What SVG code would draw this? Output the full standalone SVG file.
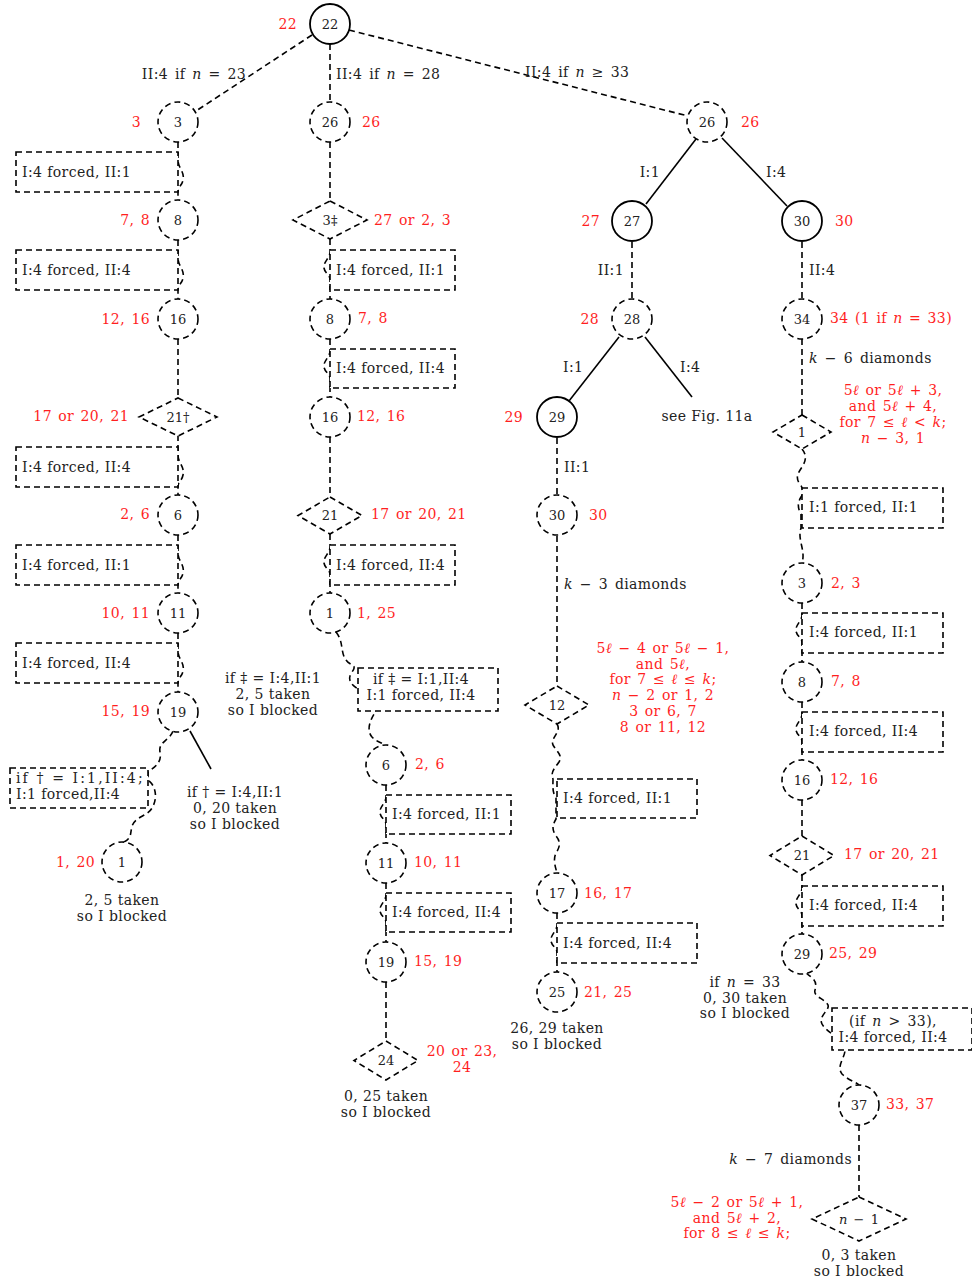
<svg xmlns="http://www.w3.org/2000/svg" width="972" height="1282" viewBox="0 0 972 1282">
<style>
.d{fill:none;stroke:#000;stroke-width:1.6;stroke-dasharray:6 4}
.s{fill:none;stroke:#000;stroke-width:1.6}
.dn{fill:#fff;stroke:#000;stroke-width:1.6;stroke-dasharray:6 4}
.sn{fill:#fff;stroke:#000;stroke-width:1.8}
text{font-family:"DejaVu Serif","Liberation Serif",serif;font-size:14px;letter-spacing:0.4px;fill:#222}
.n{font-size:13px;letter-spacing:0}
.r{fill:#ff1f1f;word-spacing:1.5px}
.w{word-spacing:2px}
.m{text-anchor:middle}
.e{text-anchor:end}
.i{font-style:italic}
</style>
<rect width="972" height="1282" fill="#fff"/>
<g id="connectors">
<path class="d" d="M312,35 L196,111"/>
<path class="d" d="M330,44 V102"/>
<path class="d" d="M349,30 L688,116"/>
<path class="d" d="M178,142 V160 C178,168 185,172 183,180 C182,186 178,186 178,192 V200"/>
<path class="d" d="M178,240 V258 C178,266 185,270 183,278 C182,284 178,284 178,290 V299"/>
<path class="d" d="M178,339 V398"/>
<path class="d" d="M178,435 V455 C178,463 185,467 183,475 C182,481 178,481 178,487 V495"/>
<path class="d" d="M178,535 V553 C178,561 185,565 183,573 C182,579 178,579 178,585 V593"/>
<path class="d" d="M178,633 V651 C178,659 185,663 183,671 C182,677 178,677 178,683 V692"/>
<path class="d" d="M173,731 C170,740 158,742 160,752 C162,762 156,766 148,772 L148,780 C156,786 158,798 152,808 C148,816 136,816 132,826 C130,834 132,838 124,842"/>
<path class="s" d="M190,731 L211,769"/>
<path class="d" d="M330,142 V201"/>
<path class="d" d="M330,239 V252 C330,258 323,262 324,268 C325,274 330,274 330,280 V299"/>
<path class="d" d="M330,339 V351 C330,357 323,361 324,367 C325,373 330,373 330,379 V397"/>
<path class="d" d="M330,437 V497"/>
<path class="d" d="M330,534 V547 C330,553 323,557 324,563 C325,569 330,569 330,575 V593"/>
<path class="d" d="M336,632 C344,642 340,652 346,660 C350,666 358,664 352,672 C346,680 352,686 360,690 L376,711 C370,720 366,730 372,737 C378,743 382,742 384,745"/>
<path class="d" d="M386,785 V797 C386,803 379,807 380,813 C381,819 386,819 386,825 V843"/>
<path class="d" d="M386,883 V895 C386,901 379,905 380,911 C381,917 386,917 386,923 V942"/>
<path class="d" d="M386,982 V1041"/>
<path class="s" d="M696,139 L646,204"/>
<path class="s" d="M722,138 L787,206"/>
<path class="d" d="M632,242 V299"/>
<path class="s" d="M619,337 L569,401"/>
<path class="s" d="M645,337 L692,397"/>
<path class="d" d="M557,438 V495"/>
<path class="d" d="M557,536 V686"/>
<path class="d" d="M557,724 C562,732 550,738 553,745 C557,752 563,755 559,762 C555,768 550,772 553,779 C553,786 552,792 556,798 V819 C552,826 552,830 556,836 C561,842 560,847 556,853 C553,859 555,866 557,873"/>
<path class="d" d="M557,913 V925 C557,931 550,935 551,941 C552,947 557,947 557,953 V972"/>
<path class="d" d="M802,242 V299"/>
<path class="d" d="M802,339 V415"/>
<path class="d" d="M802,449 C807,455 806,461 802,467 C798,473 795,478 800,484 C803,488 804,492 801,497 C798,502 797,507 801,514 V528 C797,540 806,550 802,563"/>
<path class="d" d="M802,603 V615 C802,621 795,625 796,631 C797,637 802,637 802,643 V662"/>
<path class="d" d="M802,702 V714 C802,720 795,724 796,730 C797,736 802,736 802,742 V760"/>
<path class="d" d="M802,800 V836"/>
<path class="d" d="M802,875 V888 C802,894 795,898 796,904 C797,910 802,910 802,916 V934"/>
<path class="d" d="M806,973 C812,978 818,980 815,990 C813,997 824,998 828,1005 C830,1010 818,1016 822,1024 C826,1032 845,1040 845,1050 C845,1058 836,1066 842,1074 C848,1080 856,1082 859,1085"/>
<path class="d" d="M859,1125 V1197"/>
<text x="194" y="79" class="m w">II:4 if <tspan class="i">n</tspan> = 23</text>
<text x="336" y="79" class="w">II:4 if <tspan class="i">n</tspan> = 28</text>
<text x="525" y="77" class="w">II:4 if <tspan class="i">n</tspan> ≥ 33</text>
<text x="660" y="177" class="e">I:1</text>
<text x="766" y="177">I:4</text>
<text x="624" y="275" class="e">II:1</text>
<text x="809" y="275">II:4</text>
<text x="563" y="372">I:1</text>
<text x="680" y="372">I:4</text>
<text x="564" y="472">II:1</text>
<text x="564" y="589" class="w"><tspan class="i">k</tspan> − 3 diamonds</text>
<text x="809" y="363" class="w"><tspan class="i">k</tspan> − 6 diamonds</text>
<text x="852" y="1164" class="e w"><tspan class="i">k</tspan> − 7 diamonds</text>
</g>
<g id="n-root"><circle class="sn" cx="330" cy="24" r="20"/><text x="330" y="29" class="m n">22</text><text x="297" y="29" class="r e">22</text></g>
<g id="a-3"><circle class="dn" cx="178" cy="122" r="20"/><text x="178" y="127" class="m n">3</text><text x="141" y="127" class="r e">3</text></g>
<g id="a-box1"><rect class="dn" x="16" y="152" width="162" height="40"/><text x="22" y="177">I:4 forced, II:1</text></g>
<g id="a-8"><circle class="dn" cx="178" cy="220" r="20"/><text x="178" y="225" class="m n">8</text><text x="150" y="225" class="r e">7, 8</text></g>
<g id="a-box2"><rect class="dn" x="16" y="250" width="162" height="40"/><text x="22" y="275">I:4 forced, II:4</text></g>
<g id="a-16"><circle class="dn" cx="178" cy="319" r="20"/><text x="178" y="324" class="m n">16</text><text x="150" y="324" class="r e">12, 16</text></g>
<g id="a-21"><path class="dn" d="M178,398 L217,417 L178,436 L139,417 Z"/><text x="178" y="422" class="m n">21†</text><text x="129" y="421" class="r e">17 or 20, 21</text></g>
<g id="a-box3"><rect class="dn" x="16" y="447" width="162" height="40"/><text x="22" y="472">I:4 forced, II:4</text></g>
<g id="a-6"><circle class="dn" cx="178" cy="515" r="20"/><text x="178" y="520" class="m n">6</text><text x="150" y="519" class="r e">2, 6</text></g>
<g id="a-box4"><rect class="dn" x="16" y="545" width="162" height="40"/><text x="22" y="570">I:4 forced, II:1</text></g>
<g id="a-11"><circle class="dn" cx="178" cy="613" r="20"/><text x="178" y="618" class="m n">11</text><text x="150" y="618" class="r e">10, 11</text></g>
<g id="a-box5"><rect class="dn" x="16" y="643" width="162" height="40"/><text x="22" y="668">I:4 forced, II:4</text></g>
<g id="a-19"><circle class="dn" cx="178" cy="712" r="20"/><text x="178" y="717" class="m n">19</text><text x="150" y="716" class="r e">15, 19</text></g>
<g id="a-box6"><rect class="dn" x="10" y="768" width="138" height="40"/><text x="16" y="783" textLength="127" lengthAdjust="spacing">if † = I:1,II:4;</text><text x="16" y="799">I:1 forced,II:4</text></g>
<g id="a-1"><circle class="dn" cx="122" cy="862" r="20"/><text x="122" y="867" class="m n">1</text><text x="95" y="867" class="r e">1, 20</text><text x="122" y="905" class="m">2, 5 taken</text><text x="122" y="921" class="m">so I blocked</text></g>
<g id="a-note1"><text x="235" y="797" class="m">if † = I:4,II:1</text><text x="235" y="813" class="m">0, 20 taken</text><text x="235" y="829" class="m">so I blocked</text></g>
<g id="b-note1"><text x="273" y="683" class="m">if ‡ = I:4,II:1</text><text x="273" y="699" class="m">2, 5 taken</text><text x="273" y="715" class="m">so I blocked</text></g>
<g id="b-26"><circle class="dn" cx="330" cy="122" r="20"/><text x="330" y="127" class="m n">26</text><text x="362" y="127" class="r">26</text></g>
<g id="b-3"><path class="dn" d="M330,201 L367,220 L330,239 L293,220 Z"/><text x="330" y="225" class="m n">3‡</text><text x="374" y="225" class="r">27 or 2, 3</text></g>
<g id="b-box1"><rect class="dn" x="330" y="250" width="125" height="40"/><text x="336" y="275">I:4 forced, II:1</text></g>
<g id="b-8"><circle class="dn" cx="330" cy="319" r="20"/><text x="330" y="324" class="m n">8</text><text x="358" y="323" class="r">7, 8</text></g>
<g id="b-box2"><rect class="dn" x="330" y="349" width="125" height="39"/><text x="336" y="373">I:4 forced, II:4</text></g>
<g id="b-16"><circle class="dn" cx="330" cy="417" r="20"/><text x="330" y="422" class="m n">16</text><text x="357" y="421" class="r">12, 16</text></g>
<g id="b-21"><path class="dn" d="M330,497 L362,515.5 L330,534 L298,515.5 Z"/><text x="330" y="520" class="m n">21</text><text x="371" y="519" class="r">17 or 20, 21</text></g>
<g id="b-box3"><rect class="dn" x="330" y="545" width="125" height="40"/><text x="336" y="570">I:4 forced, II:4</text></g>
<g id="b-1"><circle class="dn" cx="330" cy="613" r="20"/><text x="330" y="618" class="m n">1</text><text x="357" y="618" class="r">1, 25</text></g>
<g id="b-box4"><rect class="dn" x="358" y="668" width="140" height="43"/><text x="421" y="684" class="m">if ‡ = I:1,II:4</text><text x="421" y="700" class="m">I:1 forced, II:4</text></g>
<g id="b-6"><circle class="dn" cx="386" cy="765" r="20"/><text x="386" y="770" class="m n">6</text><text x="415" y="769" class="r">2, 6</text></g>
<g id="b-box5"><rect class="dn" x="386" y="795" width="125" height="39"/><text x="392" y="819">I:4 forced, II:1</text></g>
<g id="b-11"><circle class="dn" cx="386" cy="863" r="20"/><text x="386" y="868" class="m n">11</text><text x="414" y="867" class="r">10, 11</text></g>
<g id="b-box6"><rect class="dn" x="386" y="893" width="125" height="39"/><text x="392" y="917">I:4 forced, II:4</text></g>
<g id="b-19"><circle class="dn" cx="386" cy="962" r="20"/><text x="386" y="967" class="m n">19</text><text x="414" y="966" class="r">15, 19</text></g>
<g id="b-24"><path class="dn" d="M386,1041 L418,1060.5 L386,1080 L354,1060.5 Z"/><text x="386" y="1065" class="m n">24</text><text x="462" y="1056" class="r m">20 or 23,</text><text x="462" y="1072" class="r m">24</text><text x="386" y="1101" class="m">0, 25 taken</text><text x="386" y="1117" class="m">so I blocked</text></g>
<g id="c-26"><circle class="dn" cx="707" cy="122" r="20"/><text x="707" y="127" class="m n">26</text><text x="741" y="127" class="r">26</text></g>
<g id="c-27"><circle class="sn" cx="632" cy="221" r="20"/><text x="632" y="226" class="m n">27</text><text x="600" y="226" class="r e">27</text></g>
<g id="d-30"><circle class="sn" cx="802" cy="221" r="20"/><text x="802" y="226" class="m n">30</text><text x="835" y="226" class="r">30</text></g>
<g id="c-28"><circle class="dn" cx="632" cy="319" r="20"/><text x="632" y="324" class="m n">28</text><text x="599" y="324" class="r e">28</text></g>
<g id="c-fig"><text x="707" y="421" class="m">see Fig. 11a</text></g>
<g id="c-29"><circle class="sn" cx="557" cy="417" r="20"/><text x="557" y="422" class="m n">29</text><text x="523" y="422" class="r e">29</text></g>
<g id="c-30"><circle class="dn" cx="557" cy="515" r="20"/><text x="557" y="520" class="m n">30</text><text x="589" y="520" class="r">30</text></g>
<g id="c-12"><path class="dn" d="M557,686 L589,705 L557,724 L525,705 Z"/><text x="557" y="710" class="m n">12</text>
<text x="663" y="653" class="r m">5<tspan class="i">ℓ</tspan> − 4 or 5<tspan class="i">ℓ</tspan> − 1,</text>
<text x="663" y="669" class="r m">and 5<tspan class="i">ℓ</tspan>,</text>
<text x="663" y="684" class="r m">for 7 ≤ <tspan class="i">ℓ</tspan> ≤ <tspan class="i">k</tspan>;</text>
<text x="663" y="700" class="r m"><tspan class="i">n</tspan> − 2 or 1, 2</text>
<text x="663" y="716" class="r m">3 or 6, 7</text>
<text x="663" y="732" class="r m">8 or 11, 12</text></g>
<g id="c-box1"><rect class="dn" x="557" y="779" width="140" height="39"/><text x="563" y="803">I:4 forced, II:1</text></g>
<g id="c-17"><circle class="dn" cx="557" cy="893" r="20"/><text x="557" y="898" class="m n">17</text><text x="584" y="898" class="r">16, 17</text></g>
<g id="c-box2"><rect class="dn" x="557" y="923" width="140" height="40"/><text x="563" y="948">I:4 forced, II:4</text></g>
<g id="c-25"><circle class="dn" cx="557" cy="992" r="20"/><text x="557" y="997" class="m n">25</text><text x="584" y="997" class="r">21, 25</text><text x="557" y="1033" class="m">26, 29 taken</text><text x="557" y="1049" class="m">so I blocked</text></g>
<g id="d-34"><circle class="dn" cx="802" cy="319" r="20"/><text x="802" y="324" class="m n">34</text><text x="830" y="323" class="r">34 (1 if <tspan class="i">n</tspan> = 33)</text></g>
<g id="d-1"><path class="dn" d="M802,415 L831,432 L802,449 L773,432 Z"/><text x="802" y="437" class="m n">1</text>
<text x="893" y="395" class="r m">5<tspan class="i">ℓ</tspan> or 5<tspan class="i">ℓ</tspan> + 3,</text>
<text x="893" y="411" class="r m">and 5<tspan class="i">ℓ</tspan> + 4,</text>
<text x="893" y="427" class="r m">for 7 ≤ <tspan class="i">ℓ</tspan> &lt; <tspan class="i">k</tspan>;</text>
<text x="893" y="443" class="r m"><tspan class="i">n</tspan> − 3, 1</text></g>
<g id="d-box1"><rect class="dn" x="802" y="488" width="141" height="40"/><text x="809" y="512">I:1 forced, II:1</text></g>
<g id="d-3"><circle class="dn" cx="802" cy="583" r="20"/><text x="802" y="588" class="m n">3</text><text x="831" y="588" class="r">2, 3</text></g>
<g id="d-box2"><rect class="dn" x="802" y="613" width="141" height="40"/><text x="809" y="637">I:4 forced, II:1</text></g>
<g id="d-8"><circle class="dn" cx="802" cy="682" r="20"/><text x="802" y="687" class="m n">8</text><text x="831" y="686" class="r">7, 8</text></g>
<g id="d-box3"><rect class="dn" x="802" y="712" width="141" height="40"/><text x="809" y="736">I:4 forced, II:4</text></g>
<g id="d-16"><circle class="dn" cx="802" cy="780" r="20"/><text x="802" y="785" class="m n">16</text><text x="830" y="784" class="r">12, 16</text></g>
<g id="d-21"><path class="dn" d="M802,836 L834,855.5 L802,875 L770,855.5 Z"/><text x="802" y="860" class="m n">21</text><text x="844" y="859" class="r">17 or 20, 21</text></g>
<g id="d-box4"><rect class="dn" x="802" y="886" width="141" height="40"/><text x="809" y="910">I:4 forced, II:4</text></g>
<g id="d-29"><circle class="dn" cx="802" cy="954" r="20"/><text x="802" y="959" class="m n">29</text><text x="829" y="958" class="r">25, 29</text></g>
<g id="d-note"><text x="745" y="987" class="m w">if <tspan class="i">n</tspan> = 33</text><text x="745" y="1003" class="m">0, 30 taken</text><text x="745" y="1018" class="m">so I blocked</text></g>
<g id="d-box5"><rect class="dn" x="832" y="1008" width="140" height="42"/><text x="893" y="1026" class="m w">(if <tspan class="i">n</tspan> &gt; 33),</text><text x="893" y="1042" class="m">I:4 forced, II:4</text></g>
<g id="d-37"><circle class="dn" cx="859" cy="1105" r="20"/><text x="859" y="1110" class="m n">37</text><text x="886" y="1109" class="r">33, 37</text></g>
<g id="d-n1"><path class="dn" d="M859,1197 L906,1219 L859,1241 L812,1219 Z"/><text x="859" y="1224" class="m n w"><tspan class="i">n</tspan> − 1</text>
<text x="737" y="1207" class="r m">5<tspan class="i">ℓ</tspan> − 2 or 5<tspan class="i">ℓ</tspan> + 1,</text>
<text x="737" y="1223" class="r m">and 5<tspan class="i">ℓ</tspan> + 2,</text>
<text x="737" y="1238" class="r m">for 8 ≤ <tspan class="i">ℓ</tspan> ≤ <tspan class="i">k</tspan>;</text>
<text x="859" y="1260" class="m">0, 3 taken</text><text x="859" y="1276" class="m">so I blocked</text></g>
</svg>
